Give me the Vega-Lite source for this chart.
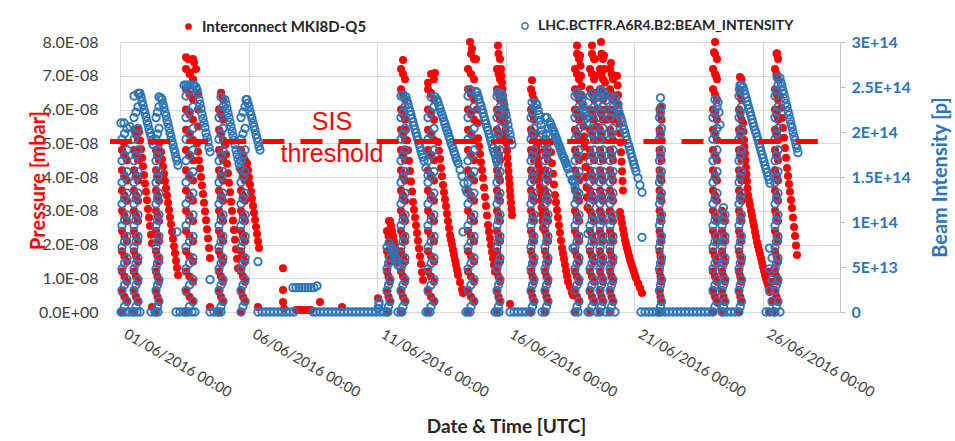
{
"$schema":"https://vega.github.io/schema/vega-lite/v6.json",
"width":720,"height":270,
"autosize":{"type":"none"},
"padding":{"left":120,"top":42,"right":115,"bottom":129},
"background":"white",
"config":{"view":{"stroke":null},"axis":{"labelFont":"Lato","titleFont":"Lato"},"legend":{"labelFont":"Lato"}},
"data":{"values":[
{"t":"2016-06-01T01:52","p":0,"b":0},{"t":"2016-06-01T01:52","p":6e-9,"b":2.4e13},{"t":"2016-06-01T01:52","p":1.2e-8,"b":4.8e13},{"t":"2016-06-01T01:52","p":1.8e-8,"b":7.2e13},{"t":"2016-06-01T01:52","p":2.4e-8,"b":9.6e13},{"t":"2016-06-01T01:52","p":3e-8,"b":1.2e14},{"t":"2016-06-01T01:52","p":3.6e-8,"b":1.44e14},{"t":"2016-06-01T01:52","p":4.2e-8,"b":1.68e14},{"t":"2016-06-01T01:52","p":4.8e-8,"b":1.92e14},
{"t":"2016-06-01T06:32","p":3e-9,"b":1.2e13},{"t":"2016-06-01T06:32","p":9e-9,"b":3.6e13},{"t":"2016-06-01T06:32","p":1.5e-8,"b":6e13},{"t":"2016-06-01T06:32","p":2.1e-8,"b":8.4e13},{"t":"2016-06-01T06:32","p":2.7e-8,"b":1.08e14},{"t":"2016-06-01T06:32","p":3.3e-8,"b":1.32e14},{"t":"2016-06-01T06:32","p":3.9e-8,"b":1.56e14},{"t":"2016-06-01T06:32","p":4.5e-8,"b":1.8e14},{"t":"2016-06-01T06:32","b":2.04e14},
{"t":"2016-06-01T03:44","p":5e-8,"b":2.1e14},{"t":"2016-06-01T00:56","b":2.1e14},{"t":"2016-06-01T09:20","b":2.06e14},
{"t":"2016-06-01T13:04","p":0,"b":0},{"t":"2016-06-01T13:04","p":6e-9,"b":2.4e13},{"t":"2016-06-01T13:04","p":1.2e-8,"b":4.8e13},{"t":"2016-06-01T13:04","p":1.8e-8,"b":7.2e13},{"t":"2016-06-01T13:04","p":2.4e-8,"b":9.6e13},{"t":"2016-06-01T13:04","p":3e-8,"b":1.2e14},{"t":"2016-06-01T13:04","p":3.6e-8,"b":1.44e14},{"t":"2016-06-01T13:04","p":4.2e-8,"b":1.68e14},{"t":"2016-06-01T13:04","p":4.8e-8,"b":1.92e14},{"t":"2016-06-01T13:04","p":5.4e-8,"b":2.16e14},{"t":"2016-06-01T13:04","b":2.4e14},
{"t":"2016-06-01T16:48","p":3e-9,"b":1.2e13},{"t":"2016-06-01T16:48","p":9e-9,"b":3.6e13},{"t":"2016-06-01T16:48","p":1.5e-8,"b":6e13},{"t":"2016-06-01T16:48","p":2.1e-8,"b":8.4e13},{"t":"2016-06-01T16:48","p":2.7e-8,"b":1.08e14},{"t":"2016-06-01T16:48","p":3.3e-8,"b":1.32e14},{"t":"2016-06-01T16:48","p":3.9e-8,"b":1.56e14},{"t":"2016-06-01T16:48","p":4.5e-8,"b":1.8e14},{"t":"2016-06-01T16:48","p":5.1e-8,"b":2.04e14},{"t":"2016-06-01T16:48","b":2.28e14},{"t":"2016-06-01T16:48","p":5.4e-8,"b":2.43e14},
{"t":"2016-06-01T17:44","p":5.33e-8,"b":2.43e14},{"t":"2016-06-01T18:40","p":5.08e-8,"b":2.43e14},{"t":"2016-06-01T19:36","p":4.82e-8,"b":2.39e14},{"t":"2016-06-01T20:32","p":4.57e-8,"b":2.34e14},{"t":"2016-06-01T21:28","p":4.32e-8,"b":2.3e14},{"t":"2016-06-01T22:24","p":4.06e-8,"b":2.25e14},{"t":"2016-06-01T23:20","p":3.81e-8,"b":2.21e14},{"t":"2016-06-02T00:16","p":3.56e-8,"b":2.17e14},{"t":"2016-06-02T01:12","p":3.31e-8,"b":2.12e14},{"t":"2016-06-02T02:08","p":3.05e-8,"b":2.08e14},{"t":"2016-06-02T03:04","p":2.8e-8,"b":2.03e14},{"t":"2016-06-02T04:00","p":2.55e-8,"b":1.99e14},{"t":"2016-06-02T04:56","p":2.29e-8,"b":1.95e14},{"t":"2016-06-02T05:52","p":2.04e-8,"b":1.9e14},{"t":"2016-06-02T06:48","b":1.86e14},{"t":"2016-06-02T05:52","p":1.5e-9},
{"t":"2016-06-02T09:36","p":0,"b":0},{"t":"2016-06-02T09:36","p":6e-9,"b":2.4e13},{"t":"2016-06-02T09:36","p":1.2e-8,"b":4.8e13},{"t":"2016-06-02T09:36","p":1.8e-8,"b":7.2e13},{"t":"2016-06-02T09:36","p":2.4e-8,"b":9.6e13},{"t":"2016-06-02T09:36","p":3e-8,"b":1.2e14},{"t":"2016-06-02T09:36","p":3.6e-8,"b":1.44e14},{"t":"2016-06-02T09:36","p":4.2e-8,"b":1.68e14},{"t":"2016-06-02T09:36","p":4.8e-8,"b":1.92e14},{"t":"2016-06-02T09:36","b":2.16e14},
{"t":"2016-06-02T12:24","p":3e-9,"b":1.2e13},{"t":"2016-06-02T12:24","p":9e-9,"b":3.6e13},{"t":"2016-06-02T12:24","p":1.5e-8,"b":6e13},{"t":"2016-06-02T12:24","p":2.1e-8,"b":8.4e13},{"t":"2016-06-02T12:24","p":2.7e-8,"b":1.08e14},{"t":"2016-06-02T12:24","p":3.3e-8,"b":1.32e14},{"t":"2016-06-02T12:24","p":3.9e-8,"b":1.56e14},{"t":"2016-06-02T12:24","p":4.5e-8,"b":1.8e14},{"t":"2016-06-02T12:24","b":2.04e14},{"t":"2016-06-02T12:24","b":2.28e14},{"t":"2016-06-02T12:24","p":5e-8,"b":2.39e14},
{"t":"2016-06-02T14:16","p":4.74e-8,"b":2.38e14},{"t":"2016-06-02T15:12","p":4.52e-8,"b":2.36e14},{"t":"2016-06-02T16:08","p":4.31e-8,"b":2.31e14},{"t":"2016-06-02T17:04","p":4.1e-8,"b":2.27e14},{"t":"2016-06-02T18:00","p":3.88e-8,"b":2.22e14},{"t":"2016-06-02T18:56","p":3.67e-8,"b":2.18e14},{"t":"2016-06-02T19:52","p":3.45e-8,"b":2.13e14},{"t":"2016-06-02T20:48","p":3.24e-8,"b":2.09e14},{"t":"2016-06-02T21:44","p":3.02e-8,"b":2.04e14},{"t":"2016-06-02T22:40","p":2.81e-8,"b":1.99e14},{"t":"2016-06-02T23:36","p":2.6e-8,"b":1.95e14},{"t":"2016-06-03T00:32","p":2.38e-8,"b":1.9e14},{"t":"2016-06-03T01:28","p":2.17e-8,"b":1.86e14},{"t":"2016-06-03T02:24","p":1.95e-8,"b":1.81e14},{"t":"2016-06-03T03:20","p":1.74e-8,"b":1.77e14},{"t":"2016-06-03T04:16","p":1.52e-8,"b":1.72e14},{"t":"2016-06-03T05:12","p":1.31e-8,"b":1.68e14},{"t":"2016-06-03T06:08","p":1.1e-8,"b":1.63e14},{"t":"2016-06-03T05:12","b":8.9e13},
{"t":"2016-06-03T13:36","p":0,"b":0},{"t":"2016-06-03T13:36","p":6e-9,"b":2.4e13},{"t":"2016-06-03T13:36","p":1.2e-8,"b":4.8e13},{"t":"2016-06-03T13:36","p":1.8e-8,"b":7.2e13},{"t":"2016-06-03T13:36","p":2.4e-8,"b":9.6e13},{"t":"2016-06-03T13:36","p":3e-8,"b":1.2e14},{"t":"2016-06-03T13:36","p":3.6e-8,"b":1.44e14},{"t":"2016-06-03T13:36","p":4.2e-8,"b":1.68e14},{"t":"2016-06-03T13:36","p":4.8e-8,"b":1.92e14},{"t":"2016-06-03T13:36","p":5.4e-8,"b":2.16e14},{"t":"2016-06-03T13:36","p":6e-8,"b":2.4e14},{"t":"2016-06-03T13:36","p":6.6e-8},{"t":"2016-06-03T13:36","p":7.2e-8},
{"t":"2016-06-03T20:08","p":3e-9,"b":1.2e13},{"t":"2016-06-03T20:08","p":9e-9,"b":3.6e13},{"t":"2016-06-03T20:08","p":1.5e-8,"b":6e13},{"t":"2016-06-03T20:08","p":2.1e-8,"b":8.4e13},{"t":"2016-06-03T20:08","p":2.7e-8,"b":1.08e14},{"t":"2016-06-03T20:08","p":3.3e-8,"b":1.32e14},{"t":"2016-06-03T20:08","p":3.9e-8,"b":1.56e14},{"t":"2016-06-03T20:08","p":4.5e-8,"b":1.8e14},{"t":"2016-06-03T20:08","p":5.1e-8,"b":2.04e14},{"t":"2016-06-03T20:08","p":5.7e-8,"b":2.28e14},{"t":"2016-06-03T20:08","p":6.3e-8,"b":2.52e14},{"t":"2016-06-03T20:08","p":6.9e-8},{"t":"2016-06-03T20:08","p":7.5e-8},
{"t":"2016-06-03T11:44","b":2.52e14},{"t":"2016-06-03T13:36","p":7.55e-8,"b":2.52e14},{"t":"2016-06-03T15:28","p":7.5e-8,"b":2.52e14},{"t":"2016-06-03T17:20","p":7.1e-8,"b":2.52e14},{"t":"2016-06-03T21:04","p":7.4e-8,"b":2.52e14},{"t":"2016-06-03T22:56","p":7.2e-8,"b":2.5e14},{"t":"2016-06-04T00:48","p":6.5e-8},{"t":"2016-06-04T00:48","p":6e-8},{"t":"2016-06-04T00:48","p":5.5e-8},
{"t":"2016-06-03T23:52","p":5e-8,"b":2.47e14},{"t":"2016-06-04T00:48","p":4.75e-8,"b":2.42e14},{"t":"2016-06-04T01:44","p":4.5e-8,"b":2.36e14},{"t":"2016-06-04T02:40","p":4.25e-8,"b":2.31e14},{"t":"2016-06-04T03:36","p":4e-8,"b":2.26e14},{"t":"2016-06-04T04:32","p":3.75e-8,"b":2.2e14},{"t":"2016-06-04T05:28","p":3.5e-8,"b":2.15e14},{"t":"2016-06-04T06:24","p":3.24e-8,"b":2.1e14},{"t":"2016-06-04T07:20","p":2.98e-8,"b":2.05e14},{"t":"2016-06-04T08:16","p":2.72e-8,"b":1.99e14},{"t":"2016-06-04T09:12","p":2.45e-8,"b":1.94e14},{"t":"2016-06-04T10:08","p":2.18e-8,"b":1.89e14},{"t":"2016-06-04T11:04","p":1.9e-8,"b":1.83e14},{"t":"2016-06-04T12:00","p":1.6e-8,"b":1.78e14},{"t":"2016-06-04T12:00","p":1.5e-9,"b":3.6e13},
{"t":"2016-06-04T20:24","p":0,"b":0},{"t":"2016-06-04T20:24","p":6e-9,"b":2.4e13},{"t":"2016-06-04T20:24","p":1.2e-8,"b":4.8e13},{"t":"2016-06-04T20:24","p":1.8e-8,"b":7.2e13},{"t":"2016-06-04T20:24","p":2.4e-8,"b":9.6e13},{"t":"2016-06-04T20:24","p":3e-8,"b":1.2e14},{"t":"2016-06-04T20:24","p":3.6e-8,"b":1.44e14},{"t":"2016-06-04T20:24","p":4.2e-8,"b":1.68e14},{"t":"2016-06-04T20:24","p":4.8e-8,"b":1.92e14},{"t":"2016-06-04T20:24","p":5.4e-8,"b":2.16e14},{"t":"2016-06-04T20:24","p":6e-8},
{"t":"2016-06-05T00:08","p":3e-9,"b":1.2e13},{"t":"2016-06-05T00:08","p":9e-9,"b":3.6e13},{"t":"2016-06-05T00:08","p":1.5e-8,"b":6e13},{"t":"2016-06-05T00:08","p":2.1e-8,"b":8.4e13},{"t":"2016-06-05T00:08","p":2.7e-8,"b":1.08e14},{"t":"2016-06-05T00:08","p":3.3e-8,"b":1.32e14},{"t":"2016-06-05T00:08","p":3.9e-8,"b":1.56e14},{"t":"2016-06-05T00:08","p":4.5e-8,"b":1.8e14},{"t":"2016-06-05T00:08","p":5.1e-8,"b":2.04e14},{"t":"2016-06-05T00:08","p":5.7e-8,"b":2.28e14},{"t":"2016-06-05T00:08","p":6.3e-8},{"t":"2016-06-04T22:16","p":6.5e-8,"b":2.39e14},
{"t":"2016-06-05T02:00","p":4.95e-8,"b":2.36e14},{"t":"2016-06-05T02:56","p":4.67e-8,"b":2.31e14},{"t":"2016-06-05T03:52","p":4.39e-8,"b":2.26e14},{"t":"2016-06-05T04:48","p":4.11e-8,"b":2.21e14},{"t":"2016-06-05T05:44","p":3.83e-8,"b":2.16e14},{"t":"2016-06-05T06:40","p":3.55e-8,"b":2.11e14},{"t":"2016-06-05T07:36","p":3.27e-8,"b":2.06e14},{"t":"2016-06-05T08:32","p":2.99e-8,"b":2.01e14},{"t":"2016-06-05T09:28","p":2.71e-8,"b":1.96e14},{"t":"2016-06-05T10:24","p":2.43e-8,"b":1.91e14},{"t":"2016-06-05T11:20","p":2.14e-8,"b":1.86e14},{"t":"2016-06-05T12:16","p":1.86e-8,"b":1.8e14},{"t":"2016-06-05T13:12","p":1.58e-8,"b":1.75e14},{"t":"2016-06-05T14:08","p":1.3e-8,"b":1.7e14},{"t":"2016-06-05T15:04","b":1.65e14},{"t":"2016-06-05T16:00","b":1.6e14},
{"t":"2016-06-05T16:56","p":0,"b":0},{"t":"2016-06-05T16:56","p":6e-9,"b":2.4e13},{"t":"2016-06-05T16:56","p":1.2e-8,"b":4.8e13},{"t":"2016-06-05T16:56","p":1.8e-8,"b":7.2e13},{"t":"2016-06-05T16:56","p":2.4e-8,"b":9.6e13},{"t":"2016-06-05T16:56","p":3e-8,"b":1.2e14},{"t":"2016-06-05T16:56","p":3.6e-8,"b":1.44e14},{"t":"2016-06-05T16:56","p":4.2e-8,"b":1.68e14},{"t":"2016-06-05T16:56","p":4.8e-8,"b":1.92e14},{"t":"2016-06-05T16:56","b":2.16e14},
{"t":"2016-06-05T20:40","p":3e-9,"b":1.2e13},{"t":"2016-06-05T20:40","p":9e-9,"b":3.6e13},{"t":"2016-06-05T20:40","p":1.5e-8,"b":6e13},{"t":"2016-06-05T20:40","p":2.1e-8,"b":8.4e13},{"t":"2016-06-05T20:40","p":2.7e-8,"b":1.08e14},{"t":"2016-06-05T20:40","p":3.3e-8,"b":1.32e14},{"t":"2016-06-05T20:40","p":3.9e-8,"b":1.56e14},{"t":"2016-06-05T20:40","p":4.5e-8,"b":1.8e14},{"t":"2016-06-05T20:40","b":2.04e14},{"t":"2016-06-05T20:40","b":2.28e14},{"t":"2016-06-05T21:36","b":2.36e14},
{"t":"2016-06-05T22:32","p":4.4e-8,"b":2.36e14},{"t":"2016-06-05T23:28","p":4.2e-8,"b":2.32e14},{"t":"2016-06-06T00:24","p":3.99e-8,"b":2.28e14},{"t":"2016-06-06T01:20","p":3.78e-8,"b":2.23e14},{"t":"2016-06-06T02:16","p":3.57e-8,"b":2.19e14},{"t":"2016-06-06T03:12","p":3.36e-8,"b":2.15e14},{"t":"2016-06-06T04:08","p":3.15e-8,"b":2.1e14},{"t":"2016-06-06T05:04","p":2.94e-8,"b":2.06e14},{"t":"2016-06-06T06:00","p":2.73e-8,"b":2.02e14},{"t":"2016-06-06T06:56","p":2.52e-8,"b":1.97e14},{"t":"2016-06-06T07:52","p":2.31e-8,"b":1.93e14},{"t":"2016-06-06T08:48","p":2.1e-8,"b":1.89e14},{"t":"2016-06-06T09:44","p":1.9e-8,"b":1.84e14},{"t":"2016-06-06T10:40","b":1.8e14},{"t":"2016-06-06T08:48","p":1.5e-9,"b":5.6e13},
{"t":"2016-06-07T08:08","p":1.3e-8},{"t":"2016-06-07T08:08","p":6.5e-9},{"t":"2016-06-07T08:08","p":3e-9},{"t":"2016-06-07T09:04","p":1e-9},
{"t":"2016-06-07T17:28","b":2.7e13},{"t":"2016-06-07T20:16","p":6e-10,"b":2.7e13},{"t":"2016-06-07T23:04","p":6e-10,"b":2.7e13},{"t":"2016-06-08T01:52","p":6e-10,"b":2.7e13},{"t":"2016-06-08T04:40","p":6e-10,"b":2.7e13},{"t":"2016-06-08T07:28","p":6e-10,"b":2.7e13},{"t":"2016-06-08T10:16","p":6e-10,"b":2.7e13},{"t":"2016-06-08T13:04","b":2.7e13},{"t":"2016-06-08T15:52","b":2.9e13},
{"t":"2016-06-08T18:40","p":3e-9},{"t":"2016-06-09T15:12","p":1.5e-9},{"t":"2016-06-11T00:48","p":4.1e-9,"b":4e12},{"t":"2016-06-11T01:44","b":8e12},{"t":"2016-06-11T01:44","b":1.1e13},
{"t":"2016-06-11T09:12","p":0,"b":0},{"t":"2016-06-11T09:12","p":6e-9,"b":2.4e13},{"t":"2016-06-11T09:12","p":1.2e-8,"b":4.8e13},{"t":"2016-06-11T09:12","p":1.8e-8,"b":7.2e13},{"t":"2016-06-11T09:12","p":2.4e-8},
{"t":"2016-06-11T12:00","p":3e-9,"b":1.2e13},{"t":"2016-06-11T12:00","p":9e-9,"b":3.6e13},{"t":"2016-06-11T12:00","p":1.5e-8,"b":6e13},{"t":"2016-06-11T12:00","p":2.1e-8},{"t":"2016-06-11T12:00","p":2.7e-8},{"t":"2016-06-11T11:04","p":2.7e-8,"b":7.7e13},
{"t":"2016-06-11T12:56","p":2.55e-8,"b":7.3e13},{"t":"2016-06-11T13:52","p":2.4e-8,"b":7e13},{"t":"2016-06-11T14:48","p":2.25e-8,"b":6.8e13},{"t":"2016-06-11T15:44","p":2.1e-8,"b":6.5e13},{"t":"2016-06-11T16:40","p":1.95e-8,"b":6.2e13},{"t":"2016-06-11T17:36","p":1.8e-8,"b":5.9e13},{"t":"2016-06-11T18:32","p":1.64e-8,"b":5.5e13},{"t":"2016-06-11T19:28","p":1.48e-8,"b":5.2e13},
{"t":"2016-06-11T22:16","p":0,"b":0},{"t":"2016-06-11T22:16","p":6e-9,"b":2.4e13},{"t":"2016-06-11T22:16","p":1.2e-8,"b":4.8e13},{"t":"2016-06-11T22:16","p":1.8e-8,"b":7.2e13},{"t":"2016-06-11T22:16","p":2.4e-8,"b":9.6e13},{"t":"2016-06-11T22:16","p":3e-8,"b":1.2e14},{"t":"2016-06-11T22:16","p":3.6e-8,"b":1.44e14},{"t":"2016-06-11T22:16","p":4.2e-8,"b":1.68e14},{"t":"2016-06-11T22:16","p":4.8e-8,"b":1.92e14},{"t":"2016-06-11T22:16","p":5.4e-8,"b":2.16e14},{"t":"2016-06-11T22:16","p":6e-8,"b":2.4e14},{"t":"2016-06-11T22:16","p":6.6e-8},{"t":"2016-06-11T22:16","p":7.2e-8},
{"t":"2016-06-12T02:00","p":3e-9,"b":1.2e13},{"t":"2016-06-12T02:00","p":9e-9,"b":3.6e13},{"t":"2016-06-12T02:00","p":1.5e-8,"b":6e13},{"t":"2016-06-12T02:00","p":2.1e-8,"b":8.4e13},{"t":"2016-06-12T02:00","p":2.7e-8,"b":1.08e14},{"t":"2016-06-12T02:00","p":3.3e-8,"b":1.32e14},{"t":"2016-06-12T02:00","p":3.9e-8,"b":1.56e14},{"t":"2016-06-12T02:00","p":4.5e-8,"b":1.8e14},{"t":"2016-06-12T02:00","p":5.1e-8,"b":2.04e14},{"t":"2016-06-12T02:00","p":5.7e-8,"b":2.28e14},{"t":"2016-06-12T02:00","p":6.3e-8},{"t":"2016-06-12T02:00","p":6.9e-8},{"t":"2016-06-12T00:08","p":7.47e-8,"b":2.41e14},
{"t":"2016-06-12T02:56","p":5.4e-8,"b":2.39e14},{"t":"2016-06-12T03:52","p":5.09e-8,"b":2.35e14},{"t":"2016-06-12T04:48","p":4.79e-8,"b":2.31e14},{"t":"2016-06-12T05:44","p":4.48e-8,"b":2.27e14},{"t":"2016-06-12T06:40","p":4.18e-8,"b":2.23e14},{"t":"2016-06-12T07:36","p":3.87e-8,"b":2.19e14},{"t":"2016-06-12T08:32","p":3.57e-8,"b":2.15e14},{"t":"2016-06-12T09:28","p":3.26e-8,"b":2.11e14},{"t":"2016-06-12T10:24","p":3.03e-8,"b":2.07e14},{"t":"2016-06-12T11:20","p":2.8e-8,"b":2.03e14},{"t":"2016-06-12T12:16","p":2.57e-8,"b":1.99e14},{"t":"2016-06-12T13:12","p":2.34e-8,"b":1.95e14},{"t":"2016-06-12T14:08","p":2.11e-8,"b":1.91e14},{"t":"2016-06-12T15:04","p":1.88e-8,"b":1.87e14},{"t":"2016-06-12T16:00","p":1.65e-8,"b":1.83e14},{"t":"2016-06-12T16:56","p":1.42e-8,"b":1.79e14},{"t":"2016-06-12T17:52","p":1.18e-8,"b":1.75e14},{"t":"2016-06-12T18:48","p":9.5e-9,"b":1.72e14},{"t":"2016-06-12T19:44","b":1.68e14},{"t":"2016-06-12T21:36","b":1.6e14},{"t":"2016-06-12T23:28","b":1.52e14},
{"t":"2016-06-12T23:28","p":0,"b":0},{"t":"2016-06-12T23:28","p":6e-9,"b":2.4e13},{"t":"2016-06-12T23:28","p":1.2e-8,"b":4.8e13},{"t":"2016-06-12T23:28","p":1.8e-8,"b":7.2e13},{"t":"2016-06-12T23:28","p":2.4e-8,"b":9.6e13},{"t":"2016-06-12T23:28","p":3e-8,"b":1.2e14},{"t":"2016-06-12T23:28","p":3.6e-8,"b":1.44e14},{"t":"2016-06-12T23:28","p":4.2e-8,"b":1.68e14},{"t":"2016-06-12T23:28","p":4.8e-8,"b":1.92e14},{"t":"2016-06-12T23:28","p":5.4e-8,"b":2.16e14},{"t":"2016-06-12T23:28","p":6e-8},{"t":"2016-06-12T23:28","p":6.6e-8},{"t":"2016-06-12T23:28","p":6.79e-8},
{"t":"2016-06-13T05:04","p":3e-9,"b":1.2e13},{"t":"2016-06-13T05:04","p":9e-9,"b":3.6e13},{"t":"2016-06-13T05:04","p":1.5e-8,"b":6e13},{"t":"2016-06-13T05:04","p":2.1e-8,"b":8.4e13},{"t":"2016-06-13T05:04","p":2.7e-8,"b":1.08e14},{"t":"2016-06-13T05:04","p":3.3e-8,"b":1.32e14},{"t":"2016-06-13T05:04","p":3.9e-8,"b":1.56e14},{"t":"2016-06-13T05:04","p":4.5e-8,"b":1.8e14},{"t":"2016-06-13T05:04","p":5.1e-8,"b":2.04e14},{"t":"2016-06-13T05:04","p":5.7e-8,"b":2.28e14},{"t":"2016-06-13T05:04","p":6.3e-8},{"t":"2016-06-13T05:04","p":6.9e-8},{"t":"2016-06-13T02:16","p":6.5e-8,"b":2.39e14},{"t":"2016-06-13T06:00","p":7.08e-8,"b":2.39e14},
{"t":"2016-06-13T07:52","b":2.36e14},{"t":"2016-06-13T08:48","p":5.04e-8,"b":2.33e14},{"t":"2016-06-13T09:44","p":4.78e-8,"b":2.29e14},{"t":"2016-06-13T10:40","p":4.53e-8,"b":2.26e14},{"t":"2016-06-13T11:36","p":4.27e-8,"b":2.22e14},{"t":"2016-06-13T12:32","p":4.02e-8,"b":2.19e14},{"t":"2016-06-13T13:28","p":3.76e-8,"b":2.16e14},{"t":"2016-06-13T14:24","p":3.55e-8,"b":2.12e14},{"t":"2016-06-13T15:20","p":3.34e-8,"b":2.09e14},{"t":"2016-06-13T16:16","p":3.13e-8,"b":2.05e14},{"t":"2016-06-13T17:12","p":2.91e-8,"b":2.02e14},{"t":"2016-06-13T18:08","p":2.7e-8,"b":1.99e14},{"t":"2016-06-13T19:04","p":2.49e-8,"b":1.95e14},{"t":"2016-06-13T20:00","p":2.28e-8,"b":1.92e14},{"t":"2016-06-13T20:56","p":2.13e-8,"b":1.88e14},{"t":"2016-06-13T21:52","p":1.99e-8,"b":1.85e14},{"t":"2016-06-13T22:48","p":1.84e-8,"b":1.82e14},{"t":"2016-06-13T23:44","p":1.69e-8,"b":1.78e14},{"t":"2016-06-14T00:40","p":1.54e-8,"b":1.75e14},{"t":"2016-06-14T01:36","p":1.4e-8,"b":1.71e14},{"t":"2016-06-14T02:32","p":1.25e-8,"b":1.68e14},{"t":"2016-06-14T03:28","p":1.1e-8,"b":1.65e14},{"t":"2016-06-14T05:20","p":8.8e-9,"b":1.58e14},{"t":"2016-06-14T07:12","p":6.7e-9,"b":1.51e14},{"t":"2016-06-14T08:08","p":5.6e-9,"b":8.9e13},{"t":"2016-06-14T09:04","b":1.43e14},{"t":"2016-06-14T10:56","b":1.36e14},{"t":"2016-06-14T11:52","b":1.33e14},
{"t":"2016-06-14T12:48","p":0,"b":0},{"t":"2016-06-14T12:48","p":6e-9,"b":2.4e13},{"t":"2016-06-14T12:48","p":1.2e-8,"b":4.8e13},{"t":"2016-06-14T12:48","p":1.8e-8,"b":7.2e13},{"t":"2016-06-14T12:48","p":2.4e-8,"b":9.6e13},{"t":"2016-06-14T12:48","p":3e-8,"b":1.2e14},{"t":"2016-06-14T12:48","p":3.6e-8,"b":1.44e14},{"t":"2016-06-14T12:48","p":4.2e-8,"b":1.68e14},{"t":"2016-06-14T12:48","p":4.8e-8,"b":1.92e14},{"t":"2016-06-14T12:48","p":5.4e-8,"b":2.16e14},{"t":"2016-06-14T12:48","p":6e-8,"b":2.4e14},{"t":"2016-06-14T12:48","p":6.6e-8},{"t":"2016-06-14T12:48","p":7.2e-8},
{"t":"2016-06-14T18:24","p":3e-9,"b":1.2e13},{"t":"2016-06-14T18:24","p":9e-9,"b":3.6e13},{"t":"2016-06-14T18:24","p":1.5e-8,"b":6e13},{"t":"2016-06-14T18:24","p":2.1e-8,"b":8.4e13},{"t":"2016-06-14T18:24","p":2.7e-8,"b":1.08e14},{"t":"2016-06-14T18:24","p":3.3e-8,"b":1.32e14},{"t":"2016-06-14T18:24","p":3.9e-8,"b":1.56e14},{"t":"2016-06-14T18:24","p":4.5e-8,"b":1.8e14},{"t":"2016-06-14T18:24","p":5.1e-8,"b":2.04e14},{"t":"2016-06-14T18:24","p":5.7e-8,"b":2.28e14},{"t":"2016-06-14T18:24","p":6.3e-8},{"t":"2016-06-14T18:24","p":6.9e-8},{"t":"2016-06-14T18:24","p":7.5e-8},
{"t":"2016-06-14T14:40","p":8e-8,"b":2.47e14},{"t":"2016-06-14T16:32","p":7.8e-8},{"t":"2016-06-14T20:16","p":7.5e-8,"b":2.45e14},{"t":"2016-06-14T21:12","p":6e-8},{"t":"2016-06-14T21:40","p":5.6e-8},
{"t":"2016-06-14T21:12","b":2.44e14},{"t":"2016-06-14T22:08","p":5.15e-8,"b":2.4e14},{"t":"2016-06-14T23:04","p":4.91e-8,"b":2.36e14},{"t":"2016-06-15T00:00","p":4.68e-8,"b":2.32e14},{"t":"2016-06-15T00:56","p":4.44e-8,"b":2.29e14},{"t":"2016-06-15T01:52","p":4.21e-8,"b":2.25e14},{"t":"2016-06-15T02:48","p":3.97e-8,"b":2.21e14},{"t":"2016-06-15T03:44","p":3.69e-8,"b":2.17e14},{"t":"2016-06-15T04:40","p":3.41e-8,"b":2.13e14},{"t":"2016-06-15T05:36","p":3.14e-8,"b":2.09e14},{"t":"2016-06-15T06:32","p":2.86e-8,"b":2.05e14},{"t":"2016-06-15T07:28","p":2.58e-8,"b":2.02e14},{"t":"2016-06-15T08:24","p":2.38e-8,"b":1.98e14},{"t":"2016-06-15T09:20","p":2.18e-8,"b":1.94e14},{"t":"2016-06-15T10:16","p":1.98e-8,"b":1.9e14},{"t":"2016-06-15T11:12","p":1.78e-8,"b":1.86e14},{"t":"2016-06-15T12:08","p":1.59e-8,"b":1.82e14},{"t":"2016-06-15T13:04","p":1.39e-8,"b":1.78e14},{"t":"2016-06-15T14:00","p":1.19e-8,"b":1.75e14},{"t":"2016-06-15T14:56","b":1.71e14},{"t":"2016-06-15T15:52","b":1.67e14},{"t":"2016-06-15T16:48","b":1.63e14},
{"t":"2016-06-15T15:52","p":0,"b":0},{"t":"2016-06-15T15:52","p":6e-9,"b":2.4e13},{"t":"2016-06-15T15:52","p":1.2e-8,"b":4.8e13},{"t":"2016-06-15T15:52","p":1.8e-8,"b":7.2e13},{"t":"2016-06-15T15:52","p":2.4e-8,"b":9.6e13},{"t":"2016-06-15T15:52","p":3e-8,"b":1.2e14},{"t":"2016-06-15T15:52","p":3.6e-8,"b":1.44e14},{"t":"2016-06-15T15:52","p":4.2e-8,"b":1.68e14},{"t":"2016-06-15T15:52","p":4.8e-8,"b":1.92e14},{"t":"2016-06-15T15:52","p":5.4e-8,"b":2.16e14},{"t":"2016-06-15T15:52","p":6e-8,"b":2.4e14},{"t":"2016-06-15T15:52","p":6.6e-8},{"t":"2016-06-15T15:52","p":7.2e-8},
{"t":"2016-06-15T18:40","p":3e-9,"b":1.2e13},{"t":"2016-06-15T18:40","p":9e-9,"b":3.6e13},{"t":"2016-06-15T18:40","p":1.5e-8,"b":6e13},{"t":"2016-06-15T18:40","p":2.1e-8,"b":8.4e13},{"t":"2016-06-15T18:40","p":2.7e-8,"b":1.08e14},{"t":"2016-06-15T18:40","p":3.3e-8,"b":1.32e14},{"t":"2016-06-15T18:40","p":3.9e-8,"b":1.56e14},{"t":"2016-06-15T18:40","p":4.5e-8,"b":1.8e14},{"t":"2016-06-15T18:40","p":5.1e-8,"b":2.04e14},{"t":"2016-06-15T18:40","p":5.7e-8,"b":2.28e14},{"t":"2016-06-15T18:40","p":6.3e-8},{"t":"2016-06-15T18:40","p":6.9e-8},{"t":"2016-06-15T18:40","p":7.5e-8},{"t":"2016-06-15T16:48","p":7.9e-8,"b":2.44e14},
{"t":"2016-06-15T19:36","p":7.2e-8,"b":2.43e14},{"t":"2016-06-15T20:04","p":7e-8},{"t":"2016-06-15T20:32","p":6.8e-8,"b":2.41e14},{"t":"2016-06-15T21:00","p":6.6e-8},{"t":"2016-06-15T21:28","p":6.4e-8,"b":2.35e14},{"t":"2016-06-15T21:56","p":6.2e-8},{"t":"2016-06-15T22:24","p":6e-8,"b":2.3e14},{"t":"2016-06-15T22:52","p":5.8e-8},{"t":"2016-06-15T23:20","p":5.6e-8,"b":2.24e14},{"t":"2016-06-15T23:48","p":5.4e-8},{"t":"2016-06-16T00:16","p":5.2e-8,"b":2.19e14},{"t":"2016-06-16T00:44","p":5e-8},{"t":"2016-06-16T01:12","p":4.78e-8,"b":2.13e14},{"t":"2016-06-16T01:40","p":4.57e-8},{"t":"2016-06-16T02:08","p":4.36e-8,"b":2.08e14},{"t":"2016-06-16T02:36","p":4.17e-8},{"t":"2016-06-16T03:04","p":3.98e-8,"b":2.02e14},{"t":"2016-06-16T03:32","p":3.79e-8},{"t":"2016-06-16T04:00","p":3.6e-8,"b":1.97e14},{"t":"2016-06-16T04:28","p":3.42e-8},{"t":"2016-06-16T04:56","p":3.24e-8,"b":1.91e14},{"t":"2016-06-16T05:24","p":3.05e-8},{"t":"2016-06-16T05:52","p":2.87e-8,"b":1.86e14},{"t":"2016-06-16T04:00","p":2.4e-9},
{"t":"2016-06-16T23:36","p":0,"b":0},{"t":"2016-06-16T23:36","p":6e-9,"b":2.4e13},{"t":"2016-06-16T23:36","p":1.2e-8,"b":4.8e13},{"t":"2016-06-16T23:36","p":1.8e-8,"b":7.2e13},{"t":"2016-06-16T23:36","p":2.4e-8,"b":9.6e13},{"t":"2016-06-16T23:36","p":3e-8,"b":1.2e14},{"t":"2016-06-16T23:36","p":3.6e-8,"b":1.44e14},{"t":"2016-06-16T23:36","p":4.2e-8,"b":1.68e14},{"t":"2016-06-16T23:36","p":4.8e-8,"b":1.92e14},{"t":"2016-06-16T23:36","p":5.4e-8,"b":2.16e14},{"t":"2016-06-16T23:36","p":6e-8},{"t":"2016-06-16T23:36","p":6.6e-8},
{"t":"2016-06-17T02:24","p":3e-9,"b":1.2e13},{"t":"2016-06-17T02:24","p":9e-9,"b":3.6e13},{"t":"2016-06-17T02:24","p":1.5e-8,"b":6e13},{"t":"2016-06-17T02:24","p":2.1e-8,"b":8.4e13},{"t":"2016-06-17T02:24","p":2.7e-8,"b":1.08e14},{"t":"2016-06-17T02:24","p":3.3e-8,"b":1.32e14},{"t":"2016-06-17T02:24","p":3.9e-8,"b":1.56e14},{"t":"2016-06-17T02:24","p":4.5e-8,"b":1.8e14},{"t":"2016-06-17T02:24","p":5.1e-8,"b":2.04e14},{"t":"2016-06-17T02:24","p":5.7e-8,"b":2.28e14},{"t":"2016-06-17T02:24","p":6.3e-8},{"t":"2016-06-17T00:32","p":6.87e-8,"b":2.33e14},
{"t":"2016-06-17T04:16","p":5.3e-8,"b":2.32e14},{"t":"2016-06-17T05:12","p":4.95e-8,"b":2.3e14},{"t":"2016-06-17T05:40","p":4.75e-8},{"t":"2016-06-17T06:08","p":4.54e-8,"b":2.24e14},{"t":"2016-06-17T06:36","p":4.33e-8},{"t":"2016-06-17T07:04","p":4.13e-8,"b":2.19e14},{"t":"2016-06-17T07:32","p":3.92e-8},{"t":"2016-06-17T08:00","p":3.72e-8,"b":2.13e14},{"t":"2016-06-17T08:28","p":3.51e-8},{"t":"2016-06-17T08:56","p":3.31e-8,"b":2.08e14},{"t":"2016-06-17T09:24","p":3.1e-8},{"t":"2016-06-17T09:52","p":2.9e-8,"b":2.02e14},{"t":"2016-06-17T10:20","p":2.7e-8},{"t":"2016-06-17T10:48","p":2.49e-8,"b":1.97e14},{"t":"2016-06-17T11:44","b":1.91e14},{"t":"2016-06-17T12:40","b":1.86e14},
{"t":"2016-06-17T12:40","p":0,"b":0},{"t":"2016-06-17T12:40","p":6e-9,"b":2.4e13},{"t":"2016-06-17T12:40","p":1.2e-8,"b":4.8e13},{"t":"2016-06-17T12:40","p":1.8e-8,"b":7.2e13},{"t":"2016-06-17T12:40","p":2.4e-8,"b":9.6e13},{"t":"2016-06-17T12:40","p":3e-8,"b":1.2e14},{"t":"2016-06-17T12:40","p":3.6e-8,"b":1.44e14},{"t":"2016-06-17T12:40","p":4.2e-8,"b":1.68e14},{"t":"2016-06-17T12:40","p":4.8e-8,"b":1.92e14},{"t":"2016-06-17T12:40","b":2.16e14},
{"t":"2016-06-17T15:28","p":3e-9,"b":1.2e13},{"t":"2016-06-17T15:28","p":9e-9,"b":3.6e13},{"t":"2016-06-17T15:28","p":1.5e-8,"b":6e13},{"t":"2016-06-17T15:28","p":2.1e-8,"b":8.4e13},{"t":"2016-06-17T15:28","p":2.7e-8,"b":1.08e14},{"t":"2016-06-17T15:28","p":3.3e-8,"b":1.32e14},{"t":"2016-06-17T15:28","p":3.9e-8,"b":1.56e14},{"t":"2016-06-17T15:28","p":4.5e-8,"b":1.8e14},{"t":"2016-06-17T15:28","b":2.04e14},{"t":"2016-06-17T14:32","p":5e-8,"b":2.16e14},
{"t":"2016-06-17T17:20","p":5.04e-8,"b":2.11e14},{"t":"2016-06-17T18:16","p":4.73e-8,"b":2.08e14},{"t":"2016-06-17T19:12","p":4.41e-8,"b":2.05e14},{"t":"2016-06-17T20:08","p":4.1e-8,"b":2.02e14},{"t":"2016-06-17T21:04","p":3.78e-8,"b":2e14},{"t":"2016-06-17T22:00","p":3.47e-8,"b":1.97e14},{"t":"2016-06-17T22:56","p":3.25e-8,"b":1.94e14},{"t":"2016-06-17T23:52","p":3.02e-8,"b":1.91e14},{"t":"2016-06-18T00:48","p":2.8e-8,"b":1.88e14},{"t":"2016-06-18T01:44","p":2.57e-8,"b":1.85e14},{"t":"2016-06-18T02:40","p":2.35e-8,"b":1.82e14},{"t":"2016-06-18T03:36","p":2.12e-8,"b":1.79e14},{"t":"2016-06-18T04:32","p":1.9e-8,"b":1.76e14},{"t":"2016-06-18T05:28","p":1.73e-8,"b":1.73e14},{"t":"2016-06-18T06:24","p":1.57e-8,"b":1.71e14},{"t":"2016-06-18T07:20","p":1.4e-8,"b":1.68e14},{"t":"2016-06-18T08:16","p":1.23e-8,"b":1.65e14},{"t":"2016-06-18T09:12","p":1.07e-8,"b":1.62e14},{"t":"2016-06-18T10:08","p":9e-9,"b":1.59e14},{"t":"2016-06-18T12:00","p":7.4e-9,"b":1.53e14},{"t":"2016-06-18T13:52","p":5.8e-9,"b":1.47e14},{"t":"2016-06-18T14:48","p":5e-9,"b":1.45e14},{"t":"2016-06-18T16:40","b":1.39e14},{"t":"2016-06-18T18:32","b":1.33e14},{"t":"2016-06-18T14:48","b":7.1e13},
{"t":"2016-06-18T16:40","p":0,"b":0},{"t":"2016-06-18T16:40","p":6e-9,"b":2.4e13},{"t":"2016-06-18T16:40","p":1.2e-8,"b":4.8e13},{"t":"2016-06-18T16:40","p":1.8e-8,"b":7.2e13},{"t":"2016-06-18T16:40","p":2.4e-8,"b":9.6e13},{"t":"2016-06-18T16:40","p":3e-8,"b":1.2e14},{"t":"2016-06-18T16:40","p":3.6e-8,"b":1.44e14},{"t":"2016-06-18T16:40","p":4.2e-8,"b":1.68e14},{"t":"2016-06-18T16:40","p":4.8e-8,"b":1.92e14},{"t":"2016-06-18T16:40","p":5.4e-8,"b":2.16e14},{"t":"2016-06-18T16:40","p":6e-8,"b":2.4e14},{"t":"2016-06-18T16:40","p":6.6e-8},{"t":"2016-06-18T16:40","p":7.2e-8},
{"t":"2016-06-18T20:24","p":3e-9,"b":1.2e13},{"t":"2016-06-18T20:24","p":9e-9,"b":3.6e13},{"t":"2016-06-18T20:24","p":1.5e-8,"b":6e13},{"t":"2016-06-18T20:24","p":2.1e-8,"b":8.4e13},{"t":"2016-06-18T20:24","p":2.7e-8,"b":1.08e14},{"t":"2016-06-18T20:24","p":3.3e-8,"b":1.32e14},{"t":"2016-06-18T20:24","p":3.9e-8,"b":1.56e14},{"t":"2016-06-18T20:24","p":4.5e-8,"b":1.8e14},{"t":"2016-06-18T20:24","p":5.1e-8,"b":2.04e14},{"t":"2016-06-18T20:24","p":5.7e-8,"b":2.28e14},{"t":"2016-06-18T20:24","p":6.3e-8},{"t":"2016-06-18T20:24","p":6.9e-8},{"t":"2016-06-18T20:24","p":7.5e-8},{"t":"2016-06-18T18:32","p":7.9e-8,"b":2.44e14},
{"t":"2016-06-18T21:20","p":7.6e-8},{"t":"2016-06-18T21:48","p":7.3e-8},{"t":"2016-06-18T22:16","p":7e-8,"b":2.41e14},{"t":"2016-06-18T22:44","p":6.7e-8},{"t":"2016-06-18T23:12","p":6.4e-8,"b":2.36e14},{"t":"2016-06-18T23:40","p":6.1e-8},{"t":"2016-06-19T00:08","p":5.8e-8,"b":2.3e14},{"t":"2016-06-19T00:36","p":5.5e-8},{"t":"2016-06-19T01:04","p":5.2e-8,"b":2.25e14},{"t":"2016-06-19T01:32","p":4.9e-8},{"t":"2016-06-19T02:00","p":4.6e-8,"b":2.2e14},{"t":"2016-06-19T02:28","p":4.3e-8},{"t":"2016-06-19T02:56","p":4e-8,"b":2.15e14},{"t":"2016-06-19T03:24","p":3.7e-8},{"t":"2016-06-19T03:52","p":3.4e-8,"b":2.1e14},{"t":"2016-06-19T04:20","p":3.1e-8},{"t":"2016-06-19T04:48","b":8.7e13},
{"t":"2016-06-19T06:40","p":0,"b":0},{"t":"2016-06-19T06:40","p":6e-9,"b":2.4e13},{"t":"2016-06-19T06:40","p":1.2e-8,"b":4.8e13},{"t":"2016-06-19T06:40","p":1.8e-8,"b":7.2e13},{"t":"2016-06-19T06:40","p":2.4e-8,"b":9.6e13},{"t":"2016-06-19T06:40","p":3e-8,"b":1.2e14},{"t":"2016-06-19T06:40","p":3.6e-8,"b":1.44e14},{"t":"2016-06-19T06:40","p":4.2e-8,"b":1.68e14},{"t":"2016-06-19T06:40","p":4.8e-8,"b":1.92e14},{"t":"2016-06-19T06:40","p":5.4e-8,"b":2.16e14},{"t":"2016-06-19T06:40","p":6e-8,"b":2.4e14},{"t":"2016-06-19T06:40","p":6.6e-8},{"t":"2016-06-19T06:40","p":7.2e-8},
{"t":"2016-06-19T10:24","p":3e-9,"b":1.2e13},{"t":"2016-06-19T10:24","p":9e-9,"b":3.6e13},{"t":"2016-06-19T10:24","p":1.5e-8,"b":6e13},{"t":"2016-06-19T10:24","p":2.1e-8,"b":8.4e13},{"t":"2016-06-19T10:24","p":2.7e-8,"b":1.08e14},{"t":"2016-06-19T10:24","p":3.3e-8,"b":1.32e14},{"t":"2016-06-19T10:24","p":3.9e-8,"b":1.56e14},{"t":"2016-06-19T10:24","p":4.5e-8,"b":1.8e14},{"t":"2016-06-19T10:24","p":5.1e-8,"b":2.04e14},{"t":"2016-06-19T10:24","p":5.7e-8,"b":2.28e14},{"t":"2016-06-19T10:24","p":6.3e-8},{"t":"2016-06-19T10:24","p":6.9e-8},{"t":"2016-06-19T10:24","p":7.5e-8},{"t":"2016-06-19T08:32","p":7.9e-8,"b":2.43e14},
{"t":"2016-06-19T11:20","p":7.5e-8},{"t":"2016-06-19T11:48","p":7e-8},{"t":"2016-06-19T12:16","p":6.5e-8,"b":2.38e14},{"t":"2016-06-19T12:44","p":6e-8},{"t":"2016-06-19T13:12","p":5.5e-8,"b":2.33e14},{"t":"2016-06-19T13:40","p":5.1e-8},
{"t":"2016-06-19T16:00","p":0,"b":0},{"t":"2016-06-19T16:00","p":6e-9,"b":2.4e13},{"t":"2016-06-19T16:00","p":1.2e-8,"b":4.8e13},{"t":"2016-06-19T16:00","p":1.8e-8,"b":7.2e13},{"t":"2016-06-19T16:00","p":2.4e-8,"b":9.6e13},{"t":"2016-06-19T16:00","p":3e-8,"b":1.2e14},{"t":"2016-06-19T16:00","p":3.6e-8,"b":1.44e14},{"t":"2016-06-19T16:00","p":4.2e-8,"b":1.68e14},{"t":"2016-06-19T16:00","p":4.8e-8,"b":1.92e14},{"t":"2016-06-19T16:00","p":5.4e-8,"b":2.16e14},{"t":"2016-06-19T16:00","p":6e-8,"b":2.4e14},{"t":"2016-06-19T16:00","p":6.6e-8},{"t":"2016-06-19T16:00","p":7.2e-8},
{"t":"2016-06-19T18:48","p":3e-9,"b":1.2e13},{"t":"2016-06-19T18:48","p":9e-9,"b":3.6e13},{"t":"2016-06-19T18:48","p":1.5e-8,"b":6e13},{"t":"2016-06-19T18:48","p":2.1e-8,"b":8.4e13},{"t":"2016-06-19T18:48","p":2.7e-8,"b":1.08e14},{"t":"2016-06-19T18:48","p":3.3e-8,"b":1.32e14},{"t":"2016-06-19T18:48","p":3.9e-8,"b":1.56e14},{"t":"2016-06-19T18:48","p":4.5e-8,"b":1.8e14},{"t":"2016-06-19T18:48","p":5.1e-8,"b":2.04e14},{"t":"2016-06-19T18:48","p":5.7e-8,"b":2.28e14},{"t":"2016-06-19T18:48","p":6.3e-8},{"t":"2016-06-19T18:48","p":6.9e-8},{"t":"2016-06-19T18:48","p":7.5e-8},{"t":"2016-06-19T16:56","p":8e-8,"b":2.47e14},
{"t":"2016-06-19T19:44","p":7.6e-8,"b":2.44e14},{"t":"2016-06-19T20:12","p":7.2e-8},{"t":"2016-06-19T20:40","p":6.8e-8,"b":2.4e14},{"t":"2016-06-19T21:08","p":6.4e-8},{"t":"2016-06-19T21:36","p":6e-8,"b":2.35e14},{"t":"2016-06-19T22:04","p":5.7e-8},
{"t":"2016-06-20T01:20","p":0,"b":0},{"t":"2016-06-20T01:20","p":6e-9,"b":2.4e13},{"t":"2016-06-20T01:20","p":1.2e-8,"b":4.8e13},{"t":"2016-06-20T01:20","p":1.8e-8,"b":7.2e13},{"t":"2016-06-20T01:20","p":2.4e-8,"b":9.6e13},{"t":"2016-06-20T01:20","p":3e-8,"b":1.2e14},{"t":"2016-06-20T01:20","p":3.6e-8,"b":1.44e14},{"t":"2016-06-20T01:20","p":4.2e-8,"b":1.68e14},{"t":"2016-06-20T01:20","p":4.8e-8,"b":1.92e14},{"t":"2016-06-20T01:20","p":5.4e-8,"b":2.16e14},{"t":"2016-06-20T01:20","p":6e-8},{"t":"2016-06-20T01:20","p":6.6e-8},{"t":"2016-06-20T01:20","p":7.2e-8},
{"t":"2016-06-20T04:08","p":3e-9,"b":1.2e13},{"t":"2016-06-20T04:08","p":9e-9,"b":3.6e13},{"t":"2016-06-20T04:08","p":1.5e-8,"b":6e13},{"t":"2016-06-20T04:08","p":2.1e-8,"b":8.4e13},{"t":"2016-06-20T04:08","p":2.7e-8,"b":1.08e14},{"t":"2016-06-20T04:08","p":3.3e-8,"b":1.32e14},{"t":"2016-06-20T04:08","p":3.9e-8,"b":1.56e14},{"t":"2016-06-20T04:08","p":4.5e-8,"b":1.8e14},{"t":"2016-06-20T04:08","p":5.1e-8,"b":2.04e14},{"t":"2016-06-20T04:08","p":5.7e-8,"b":2.28e14},{"t":"2016-06-20T04:08","p":6.3e-8},{"t":"2016-06-20T04:08","p":6.9e-8},{"t":"2016-06-20T02:16","p":7.38e-8,"b":2.39e14},
{"t":"2016-06-20T06:00","b":2.38e14},{"t":"2016-06-20T06:56","b":2.34e14},{"t":"2016-06-20T07:52","p":7e-8,"b":2.3e14},{"t":"2016-06-20T08:20","p":6.72e-8},{"t":"2016-06-20T08:48","p":6.43e-8,"b":2.26e14},{"t":"2016-06-20T09:16","p":6.15e-8},{"t":"2016-06-20T09:44","p":5.87e-8,"b":2.22e14},{"t":"2016-06-20T10:12","p":5.58e-8},{"t":"2016-06-20T10:40","p":5.3e-8,"b":2.18e14},{"t":"2016-06-20T11:08","p":5.02e-8},{"t":"2016-06-20T11:36","p":4.73e-8,"b":2.15e14},{"t":"2016-06-20T12:04","p":4.45e-8},{"t":"2016-06-20T12:32","p":4.17e-8,"b":2.11e14},{"t":"2016-06-20T13:00","p":3.88e-8},{"t":"2016-06-20T13:28","p":3.6e-8,"b":2.07e14},
{"t":"2016-06-20T10:40","p":2.96e-8},{"t":"2016-06-20T11:36","p":2.79e-8},{"t":"2016-06-20T12:32","p":2.63e-8},{"t":"2016-06-20T13:28","p":2.46e-8},{"t":"2016-06-20T14:24","p":2.3e-8,"b":2.03e14},{"t":"2016-06-20T15:20","p":2.13e-8,"b":1.99e14},{"t":"2016-06-20T16:16","p":2.01e-8,"b":1.95e14},{"t":"2016-06-20T17:12","p":1.89e-8,"b":1.91e14},{"t":"2016-06-20T18:08","p":1.78e-8,"b":1.87e14},{"t":"2016-06-20T19:04","p":1.66e-8,"b":1.84e14},{"t":"2016-06-20T20:00","p":1.54e-8,"b":1.8e14},{"t":"2016-06-20T20:56","p":1.45e-8,"b":1.76e14},{"t":"2016-06-20T21:52","p":1.36e-8,"b":1.72e14},{"t":"2016-06-20T22:48","p":1.27e-8,"b":1.68e14},{"t":"2016-06-20T23:44","p":1.18e-8,"b":1.64e14},{"t":"2016-06-21T00:40","p":1.09e-8,"b":1.6e14},{"t":"2016-06-21T01:36","p":1e-8,"b":1.56e14},{"t":"2016-06-21T03:28","p":8.5e-9,"b":1.49e14},{"t":"2016-06-21T05:20","p":7.1e-9,"b":1.41e14},{"t":"2016-06-21T07:12","p":5.6e-9,"b":1.33e14},{"t":"2016-06-21T07:12","b":8.3e13},
{"t":"2016-06-21T23:32","p":0,"b":0},{"t":"2016-06-21T23:32","p":6e-9,"b":2.4e13},{"t":"2016-06-21T23:32","p":1.2e-8,"b":4.8e13},{"t":"2016-06-21T23:32","p":1.8e-8,"b":7.2e13},{"t":"2016-06-21T23:32","p":2.4e-8,"b":9.6e13},{"t":"2016-06-21T23:32","p":3e-8,"b":1.2e14},{"t":"2016-06-21T23:32","p":3.6e-8,"b":1.44e14},{"t":"2016-06-21T23:32","p":4.2e-8,"b":1.68e14},{"t":"2016-06-21T23:32","p":4.8e-8,"b":1.92e14},{"t":"2016-06-21T23:32","p":5.4e-8,"b":2.16e14},{"t":"2016-06-21T23:32","p":6e-8},
{"t":"2016-06-22T01:24","p":3e-9,"b":1.2e13},{"t":"2016-06-22T01:24","p":9e-9,"b":3.6e13},{"t":"2016-06-22T01:24","p":1.5e-8,"b":6e13},{"t":"2016-06-22T01:24","p":2.1e-8,"b":8.4e13},{"t":"2016-06-22T01:24","p":2.7e-8,"b":1.08e14},{"t":"2016-06-22T01:24","p":3.3e-8,"b":1.32e14},{"t":"2016-06-22T01:24","p":3.9e-8,"b":1.56e14},{"t":"2016-06-22T01:24","p":4.5e-8,"b":1.8e14},{"t":"2016-06-22T01:24","p":5.1e-8,"b":2.04e14},{"t":"2016-06-22T01:24","p":5.7e-8,"b":2.28e14},{"t":"2016-06-22T00:28","p":6.07e-8,"b":2.38e14},
{"t":"2016-06-24T01:28","p":0,"b":0},{"t":"2016-06-24T01:28","p":6e-9,"b":2.4e13},{"t":"2016-06-24T01:28","p":1.2e-8,"b":4.8e13},{"t":"2016-06-24T01:28","p":1.8e-8,"b":7.2e13},{"t":"2016-06-24T01:28","p":2.4e-8,"b":9.6e13},{"t":"2016-06-24T01:28","p":3e-8,"b":1.2e14},{"t":"2016-06-24T01:28","p":3.6e-8,"b":1.44e14},{"t":"2016-06-24T01:28","p":4.2e-8,"b":1.68e14},{"t":"2016-06-24T01:28","p":4.8e-8,"b":1.92e14},{"t":"2016-06-24T01:28","p":5.4e-8,"b":2.16e14},{"t":"2016-06-24T01:28","p":6e-8},{"t":"2016-06-24T01:28","p":6.6e-8},{"t":"2016-06-24T01:28","p":7.2e-8},
{"t":"2016-06-24T05:12","p":3e-9,"b":1.2e13},{"t":"2016-06-24T05:12","p":9e-9,"b":3.6e13},{"t":"2016-06-24T05:12","p":1.5e-8,"b":6e13},{"t":"2016-06-24T05:12","p":2.1e-8,"b":8.4e13},{"t":"2016-06-24T05:12","p":2.7e-8,"b":1.08e14},{"t":"2016-06-24T05:12","p":3.3e-8,"b":1.32e14},{"t":"2016-06-24T05:12","p":3.9e-8,"b":1.56e14},{"t":"2016-06-24T05:12","p":4.5e-8,"b":1.8e14},{"t":"2016-06-24T05:12","p":5.1e-8,"b":2.04e14},{"t":"2016-06-24T05:12","p":5.7e-8,"b":2.28e14},{"t":"2016-06-24T05:12","p":6.3e-8},{"t":"2016-06-24T05:12","p":6.9e-8},{"t":"2016-06-24T05:12","p":7.5e-8},
{"t":"2016-06-24T03:20","p":8e-8,"b":2.36e14},{"t":"2016-06-24T02:24","p":7.7e-8},{"t":"2016-06-24T04:16","p":7e-8},{"t":"2016-06-24T06:08","p":2.7e-9,"b":2.33e14},{"t":"2016-06-24T07:04","b":2.22e14},{"t":"2016-06-24T08:00","b":2.08e14},
{"t":"2016-06-24T09:52","p":0,"b":0},{"t":"2016-06-24T09:52","p":6e-9,"b":2.4e13},{"t":"2016-06-24T09:52","p":1.2e-8,"b":4.8e13},{"t":"2016-06-24T09:52","p":1.8e-8,"b":7.2e13},{"t":"2016-06-24T09:52","p":2.4e-8,"b":9.6e13},{"t":"2016-06-24T09:52","p":3e-8},
{"t":"2016-06-24T12:40","p":3e-9,"b":1.2e13},{"t":"2016-06-24T12:40","p":9e-9,"b":3.6e13},{"t":"2016-06-24T12:40","p":1.5e-8,"b":6e13},{"t":"2016-06-24T12:40","p":2.1e-8,"b":8.4e13},{"t":"2016-06-24T12:40","p":2.7e-8,"b":1.08e14},{"t":"2016-06-24T11:16","b":1.16e14},
{"t":"2016-06-25T01:44","p":0,"b":0},{"t":"2016-06-25T01:44","p":6e-9,"b":2.4e13},{"t":"2016-06-25T01:44","p":1.2e-8,"b":4.8e13},{"t":"2016-06-25T01:44","p":1.8e-8,"b":7.2e13},{"t":"2016-06-25T01:44","p":2.4e-8,"b":9.6e13},{"t":"2016-06-25T01:44","p":3e-8,"b":1.2e14},{"t":"2016-06-25T01:44","p":3.6e-8,"b":1.44e14},{"t":"2016-06-25T01:44","p":4.2e-8,"b":1.68e14},{"t":"2016-06-25T01:44","p":4.8e-8,"b":1.92e14},{"t":"2016-06-25T01:44","p":5.4e-8,"b":2.16e14},{"t":"2016-06-25T01:44","p":6e-8,"b":2.4e14},{"t":"2016-06-25T01:44","p":6.6e-8},
{"t":"2016-06-25T04:04","p":3e-9,"b":1.2e13},{"t":"2016-06-25T04:04","p":9e-9,"b":3.6e13},{"t":"2016-06-25T04:04","p":1.5e-8,"b":6e13},{"t":"2016-06-25T04:04","p":2.1e-8,"b":8.4e13},{"t":"2016-06-25T04:04","p":2.7e-8,"b":1.08e14},{"t":"2016-06-25T04:04","p":3.3e-8,"b":1.32e14},{"t":"2016-06-25T04:04","p":3.9e-8,"b":1.56e14},{"t":"2016-06-25T04:04","p":4.5e-8,"b":1.8e14},{"t":"2016-06-25T04:04","p":5.1e-8,"b":2.04e14},{"t":"2016-06-25T04:04","p":5.7e-8,"b":2.28e14},{"t":"2016-06-25T04:04","p":6.3e-8,"b":2.52e14},{"t":"2016-06-25T04:04","p":6.9e-8},{"t":"2016-06-25T02:40","p":6.96e-8,"b":2.52e14},
{"t":"2016-06-25T05:28","p":5.6e-8,"b":2.5e14},{"t":"2016-06-25T05:56","p":5.35e-8},{"t":"2016-06-25T06:24","p":5.1e-8,"b":2.46e14},{"t":"2016-06-25T06:52","p":4.9e-8},{"t":"2016-06-25T07:20","p":4.7e-8,"b":2.42e14},{"t":"2016-06-25T07:48","p":4.5e-8},{"t":"2016-06-25T08:16","p":4.29e-8,"b":2.38e14},{"t":"2016-06-25T08:44","p":4.08e-8},{"t":"2016-06-25T09:12","p":3.88e-8,"b":2.34e14},{"t":"2016-06-25T09:40","p":3.67e-8},{"t":"2016-06-25T10:08","p":3.47e-8,"b":2.3e14},{"t":"2016-06-25T11:04","p":3.31e-8,"b":2.26e14},{"t":"2016-06-25T12:00","p":3.16e-8,"b":2.22e14},{"t":"2016-06-25T12:56","p":3e-8,"b":2.18e14},{"t":"2016-06-25T13:52","p":2.85e-8,"b":2.14e14},{"t":"2016-06-25T14:48","p":2.69e-8,"b":2.1e14},{"t":"2016-06-25T15:44","p":2.54e-8,"b":2.06e14},{"t":"2016-06-25T16:40","p":2.38e-8,"b":2.02e14},{"t":"2016-06-25T17:36","p":2.23e-8,"b":1.99e14},{"t":"2016-06-25T18:32","p":2.07e-8,"b":1.95e14},{"t":"2016-06-25T19:28","p":1.95e-8,"b":1.91e14},{"t":"2016-06-25T20:24","p":1.83e-8,"b":1.87e14},{"t":"2016-06-25T21:20","p":1.71e-8,"b":1.83e14},{"t":"2016-06-25T22:16","p":1.59e-8,"b":1.79e14},{"t":"2016-06-25T23:12","p":1.46e-8,"b":1.75e14},{"t":"2016-06-26T00:08","p":1.34e-8,"b":1.71e14},{"t":"2016-06-26T01:04","p":1.22e-8,"b":1.67e14},{"t":"2016-06-26T02:00","p":1.1e-8,"b":1.63e14},{"t":"2016-06-26T02:56","p":1e-8,"b":1.59e14},{"t":"2016-06-26T03:52","p":9e-9,"b":1.55e14},{"t":"2016-06-26T04:48","p":8e-9,"b":1.51e14},{"t":"2016-06-26T05:44","p":7e-9,"b":1.47e14},{"t":"2016-06-26T06:40","p":6e-9,"b":1.43e14},
{"t":"2016-06-26T06:12","p":0,"b":0},{"t":"2016-06-26T06:12","p":6e-9,"b":2.4e13},{"t":"2016-06-26T06:12","p":1.2e-8,"b":4.8e13},{"t":"2016-06-26T06:12","b":7.1e13},{"t":"2016-06-26T08:32","p":3e-9,"b":1.2e13},{"t":"2016-06-26T08:32","p":9e-9,"b":3.6e13},{"t":"2016-06-26T08:32","b":6e13},
{"t":"2016-06-26T11:20","p":0,"b":0},{"t":"2016-06-26T11:20","p":6e-9,"b":2.4e13},{"t":"2016-06-26T11:20","p":1.2e-8,"b":4.8e13},{"t":"2016-06-26T11:20","p":1.8e-8,"b":7.2e13},{"t":"2016-06-26T11:20","p":2.4e-8,"b":9.6e13},{"t":"2016-06-26T11:20","p":3e-8,"b":1.2e14},{"t":"2016-06-26T11:20","p":3.6e-8,"b":1.44e14},{"t":"2016-06-26T11:20","p":4.2e-8,"b":1.68e14},{"t":"2016-06-26T11:20","p":4.8e-8,"b":1.92e14},{"t":"2016-06-26T11:20","p":5.4e-8,"b":2.16e14},{"t":"2016-06-26T11:20","p":6e-8,"b":2.4e14},{"t":"2016-06-26T11:20","p":6.6e-8},{"t":"2016-06-26T11:20","p":7.2e-8},
{"t":"2016-06-26T14:08","p":3e-9,"b":1.2e13},{"t":"2016-06-26T14:08","p":9e-9,"b":3.6e13},{"t":"2016-06-26T14:08","p":1.5e-8,"b":6e13},{"t":"2016-06-26T14:08","p":2.1e-8,"b":8.4e13},{"t":"2016-06-26T14:08","p":2.7e-8,"b":1.08e14},{"t":"2016-06-26T14:08","p":3.3e-8,"b":1.32e14},{"t":"2016-06-26T14:08","p":3.9e-8,"b":1.56e14},{"t":"2016-06-26T14:08","p":4.5e-8,"b":1.8e14},{"t":"2016-06-26T14:08","p":5.1e-8,"b":2.04e14},{"t":"2016-06-26T14:08","p":5.7e-8,"b":2.28e14},{"t":"2016-06-26T14:08","p":6.3e-8,"b":2.52e14},{"t":"2016-06-26T14:08","p":6.9e-8},{"t":"2016-06-26T14:08","p":7.5e-8},{"t":"2016-06-26T13:12","p":7.67e-8,"b":2.61e14},
{"t":"2016-06-26T16:00","p":6.4e-8,"b":2.6e14},{"t":"2016-06-26T16:56","p":6.05e-8,"b":2.55e14},{"t":"2016-06-26T17:52","p":5.75e-8,"b":2.51e14},{"t":"2016-06-26T18:48","p":5.45e-8,"b":2.46e14},{"t":"2016-06-26T19:44","p":5.16e-8,"b":2.42e14},{"t":"2016-06-26T20:40","p":4.86e-8,"b":2.37e14},{"t":"2016-06-26T21:36","p":4.57e-8,"b":2.32e14},{"t":"2016-06-26T22:32","p":4.27e-8,"b":2.28e14},{"t":"2016-06-26T23:28","p":4.03e-8,"b":2.23e14},{"t":"2016-06-27T00:24","p":3.79e-8,"b":2.19e14},{"t":"2016-06-27T01:20","p":3.56e-8,"b":2.14e14},{"t":"2016-06-27T02:16","p":3.32e-8,"b":2.09e14},{"t":"2016-06-27T03:12","p":3.08e-8,"b":2.05e14},{"t":"2016-06-27T04:08","p":2.8e-8,"b":2e14},{"t":"2016-06-27T05:04","p":2.52e-8,"b":1.95e14},{"t":"2016-06-27T06:00","p":2.25e-8,"b":1.91e14},{"t":"2016-06-27T06:56","p":1.97e-8,"b":1.86e14},{"t":"2016-06-27T07:52","p":1.69e-8,"b":1.82e14},{"t":"2016-06-27T08:48","b":1.77e14},
{"t":"2016-06-01T04:12","p":4.5e-9,"b":6e12},{"t":"2016-06-01T04:12","p":1.05e-8,"b":3e13},{"t":"2016-06-01T04:12","p":1.65e-8,"b":5.4e13},{"t":"2016-06-01T04:12","p":2.25e-8,"b":7.8e13},{"t":"2016-06-01T04:12","p":2.85e-8,"b":1.02e14},{"t":"2016-06-01T04:12","p":3.45e-8,"b":1.26e14},{"t":"2016-06-01T04:12","p":4.05e-8,"b":1.5e14},{"t":"2016-06-01T04:12","p":4.65e-8,"b":1.74e14},{"t":"2016-06-01T04:12","b":1.98e14},
{"t":"2016-06-01T14:56","p":4.5e-9,"b":6e12},{"t":"2016-06-01T14:56","p":1.05e-8,"b":3e13},{"t":"2016-06-01T14:56","p":1.65e-8,"b":5.4e13},{"t":"2016-06-01T14:56","p":2.25e-8,"b":7.8e13},{"t":"2016-06-01T14:56","p":2.85e-8,"b":1.02e14},{"t":"2016-06-01T14:56","p":3.45e-8,"b":1.26e14},{"t":"2016-06-01T14:56","p":4.05e-8,"b":1.5e14},{"t":"2016-06-01T14:56","p":4.65e-8,"b":1.74e14},{"t":"2016-06-01T14:56","p":5.25e-8,"b":1.98e14},{"t":"2016-06-01T14:56","b":2.22e14},
{"t":"2016-06-02T11:00","p":4.5e-9,"b":6e12},{"t":"2016-06-02T11:00","p":1.05e-8,"b":3e13},{"t":"2016-06-02T11:00","p":1.65e-8,"b":5.4e13},{"t":"2016-06-02T11:00","p":2.25e-8,"b":7.8e13},{"t":"2016-06-02T11:00","p":2.85e-8,"b":1.02e14},{"t":"2016-06-02T11:00","p":3.45e-8,"b":1.26e14},{"t":"2016-06-02T11:00","p":4.05e-8,"b":1.5e14},{"t":"2016-06-02T11:00","p":4.65e-8,"b":1.74e14},{"t":"2016-06-02T11:00","b":1.98e14},{"t":"2016-06-02T11:00","b":2.22e14},
{"t":"2016-06-03T16:52","p":4.5e-9,"b":6e12},{"t":"2016-06-03T16:52","p":1.05e-8,"b":3e13},{"t":"2016-06-03T16:52","p":1.65e-8,"b":5.4e13},{"t":"2016-06-03T16:52","p":2.25e-8,"b":7.8e13},{"t":"2016-06-03T16:52","p":2.85e-8,"b":1.02e14},{"t":"2016-06-03T16:52","p":3.45e-8,"b":1.26e14},{"t":"2016-06-03T16:52","p":4.05e-8,"b":1.5e14},{"t":"2016-06-03T16:52","p":4.65e-8,"b":1.74e14},{"t":"2016-06-03T16:52","p":5.25e-8,"b":1.98e14},{"t":"2016-06-03T16:52","p":5.85e-8,"b":2.22e14},{"t":"2016-06-03T16:52","p":6.45e-8,"b":2.46e14},{"t":"2016-06-03T16:52","p":7.05e-8},
{"t":"2016-06-04T22:16","p":4.5e-9,"b":6e12},{"t":"2016-06-04T22:16","p":1.05e-8,"b":3e13},{"t":"2016-06-04T22:16","p":1.65e-8,"b":5.4e13},{"t":"2016-06-04T22:16","p":2.25e-8,"b":7.8e13},{"t":"2016-06-04T22:16","p":2.85e-8,"b":1.02e14},{"t":"2016-06-04T22:16","p":3.45e-8,"b":1.26e14},{"t":"2016-06-04T22:16","p":4.05e-8,"b":1.5e14},{"t":"2016-06-04T22:16","p":4.65e-8,"b":1.74e14},{"t":"2016-06-04T22:16","p":5.25e-8,"b":1.98e14},{"t":"2016-06-04T22:16","p":5.85e-8,"b":2.22e14},{"t":"2016-06-04T22:16","p":6.45e-8},
{"t":"2016-06-05T18:48","p":4.5e-9,"b":6e12},{"t":"2016-06-05T18:48","p":1.05e-8,"b":3e13},{"t":"2016-06-05T18:48","p":1.65e-8,"b":5.4e13},{"t":"2016-06-05T18:48","p":2.25e-8,"b":7.8e13},{"t":"2016-06-05T18:48","p":2.85e-8,"b":1.02e14},{"t":"2016-06-05T18:48","p":3.45e-8,"b":1.26e14},{"t":"2016-06-05T18:48","p":4.05e-8,"b":1.5e14},{"t":"2016-06-05T18:48","p":4.65e-8,"b":1.74e14},{"t":"2016-06-05T18:48","b":1.98e14},{"t":"2016-06-05T18:48","b":2.22e14},
{"t":"2016-06-11T10:36","p":4.5e-9,"b":6e12},{"t":"2016-06-11T10:36","p":1.05e-8,"b":3e13},{"t":"2016-06-11T10:36","p":1.65e-8,"b":5.4e13},{"t":"2016-06-11T10:36","p":2.25e-8},
{"t":"2016-06-12T00:08","p":4.5e-9,"b":6e12},{"t":"2016-06-12T00:08","p":1.05e-8,"b":3e13},{"t":"2016-06-12T00:08","p":1.65e-8,"b":5.4e13},{"t":"2016-06-12T00:08","p":2.25e-8,"b":7.8e13},{"t":"2016-06-12T00:08","p":2.85e-8,"b":1.02e14},{"t":"2016-06-12T00:08","p":3.45e-8,"b":1.26e14},{"t":"2016-06-12T00:08","p":4.05e-8,"b":1.5e14},{"t":"2016-06-12T00:08","p":4.65e-8,"b":1.74e14},{"t":"2016-06-12T00:08","p":5.25e-8,"b":1.98e14},{"t":"2016-06-12T00:08","p":5.85e-8,"b":2.22e14},{"t":"2016-06-12T00:08","p":6.45e-8},{"t":"2016-06-12T00:08","p":7.05e-8},
{"t":"2016-06-13T02:16","p":4.5e-9,"b":6e12},{"t":"2016-06-13T02:16","p":1.05e-8,"b":3e13},{"t":"2016-06-13T02:16","p":1.65e-8,"b":5.4e13},{"t":"2016-06-13T02:16","p":2.25e-8,"b":7.8e13},{"t":"2016-06-13T02:16","p":2.85e-8,"b":1.02e14},{"t":"2016-06-13T02:16","p":3.45e-8,"b":1.26e14},{"t":"2016-06-13T02:16","p":4.05e-8,"b":1.5e14},{"t":"2016-06-13T02:16","p":4.65e-8,"b":1.74e14},{"t":"2016-06-13T02:16","p":5.25e-8,"b":1.98e14},{"t":"2016-06-13T02:16","p":5.85e-8,"b":2.22e14},{"t":"2016-06-13T02:16","p":6.45e-8},{"t":"2016-06-13T02:16","p":7.05e-8},
{"t":"2016-06-14T15:36","p":4.5e-9,"b":6e12},{"t":"2016-06-14T15:36","p":1.05e-8,"b":3e13},{"t":"2016-06-14T15:36","p":1.65e-8,"b":5.4e13},{"t":"2016-06-14T15:36","p":2.25e-8,"b":7.8e13},{"t":"2016-06-14T15:36","p":2.85e-8,"b":1.02e14},{"t":"2016-06-14T15:36","p":3.45e-8,"b":1.26e14},{"t":"2016-06-14T15:36","p":4.05e-8,"b":1.5e14},{"t":"2016-06-14T15:36","p":4.65e-8,"b":1.74e14},{"t":"2016-06-14T15:36","p":5.25e-8,"b":1.98e14},{"t":"2016-06-14T15:36","p":5.85e-8,"b":2.22e14},{"t":"2016-06-14T15:36","p":6.45e-8,"b":2.46e14},{"t":"2016-06-14T15:36","p":7.05e-8},{"t":"2016-06-14T15:36","p":7.65e-8},
{"t":"2016-06-15T17:16","p":4.5e-9,"b":6e12},{"t":"2016-06-15T17:16","p":1.05e-8,"b":3e13},{"t":"2016-06-15T17:16","p":1.65e-8,"b":5.4e13},{"t":"2016-06-15T17:16","p":2.25e-8,"b":7.8e13},{"t":"2016-06-15T17:16","p":2.85e-8,"b":1.02e14},{"t":"2016-06-15T17:16","p":3.45e-8,"b":1.26e14},{"t":"2016-06-15T17:16","p":4.05e-8,"b":1.5e14},{"t":"2016-06-15T17:16","p":4.65e-8,"b":1.74e14},{"t":"2016-06-15T17:16","p":5.25e-8,"b":1.98e14},{"t":"2016-06-15T17:16","p":5.85e-8,"b":2.22e14},{"t":"2016-06-15T17:16","p":6.45e-8},{"t":"2016-06-15T17:16","p":7.05e-8},{"t":"2016-06-15T17:16","p":7.65e-8},
{"t":"2016-06-17T01:00","p":4.5e-9,"b":6e12},{"t":"2016-06-17T01:00","p":1.05e-8,"b":3e13},{"t":"2016-06-17T01:00","p":1.65e-8,"b":5.4e13},{"t":"2016-06-17T01:00","p":2.25e-8,"b":7.8e13},{"t":"2016-06-17T01:00","p":2.85e-8,"b":1.02e14},{"t":"2016-06-17T01:00","p":3.45e-8,"b":1.26e14},{"t":"2016-06-17T01:00","p":4.05e-8,"b":1.5e14},{"t":"2016-06-17T01:00","p":4.65e-8,"b":1.74e14},{"t":"2016-06-17T01:00","p":5.25e-8,"b":1.98e14},{"t":"2016-06-17T01:00","p":5.85e-8,"b":2.22e14},{"t":"2016-06-17T01:00","p":6.45e-8},
{"t":"2016-06-17T14:04","p":4.5e-9,"b":6e12},{"t":"2016-06-17T14:04","p":1.05e-8,"b":3e13},{"t":"2016-06-17T14:04","p":1.65e-8,"b":5.4e13},{"t":"2016-06-17T14:04","p":2.25e-8,"b":7.8e13},{"t":"2016-06-17T14:04","p":2.85e-8,"b":1.02e14},{"t":"2016-06-17T14:04","p":3.45e-8,"b":1.26e14},{"t":"2016-06-17T14:04","p":4.05e-8,"b":1.5e14},{"t":"2016-06-17T14:04","p":4.65e-8,"b":1.74e14},{"t":"2016-06-17T14:04","b":1.98e14},
{"t":"2016-06-18T18:32","p":4.5e-9,"b":6e12},{"t":"2016-06-18T18:32","p":1.05e-8,"b":3e13},{"t":"2016-06-18T18:32","p":1.65e-8,"b":5.4e13},{"t":"2016-06-18T18:32","p":2.25e-8,"b":7.8e13},{"t":"2016-06-18T18:32","p":2.85e-8,"b":1.02e14},{"t":"2016-06-18T18:32","p":3.45e-8,"b":1.26e14},{"t":"2016-06-18T18:32","p":4.05e-8,"b":1.5e14},{"t":"2016-06-18T18:32","p":4.65e-8,"b":1.74e14},{"t":"2016-06-18T18:32","p":5.25e-8,"b":1.98e14},{"t":"2016-06-18T18:32","p":5.85e-8,"b":2.22e14},{"t":"2016-06-18T18:32","p":6.45e-8},{"t":"2016-06-18T18:32","p":7.05e-8},{"t":"2016-06-18T18:32","p":7.65e-8},
{"t":"2016-06-19T08:32","p":4.5e-9,"b":6e12},{"t":"2016-06-19T08:32","p":1.05e-8,"b":3e13},{"t":"2016-06-19T08:32","p":1.65e-8,"b":5.4e13},{"t":"2016-06-19T08:32","p":2.25e-8,"b":7.8e13},{"t":"2016-06-19T08:32","p":2.85e-8,"b":1.02e14},{"t":"2016-06-19T08:32","p":3.45e-8,"b":1.26e14},{"t":"2016-06-19T08:32","p":4.05e-8,"b":1.5e14},{"t":"2016-06-19T08:32","p":4.65e-8,"b":1.74e14},{"t":"2016-06-19T08:32","p":5.25e-8,"b":1.98e14},{"t":"2016-06-19T08:32","p":5.85e-8,"b":2.22e14},{"t":"2016-06-19T08:32","p":6.45e-8},{"t":"2016-06-19T08:32","p":7.05e-8},{"t":"2016-06-19T08:32","p":7.65e-8},
{"t":"2016-06-19T17:24","p":4.5e-9,"b":6e12},{"t":"2016-06-19T17:24","p":1.05e-8,"b":3e13},{"t":"2016-06-19T17:24","p":1.65e-8,"b":5.4e13},{"t":"2016-06-19T17:24","p":2.25e-8,"b":7.8e13},{"t":"2016-06-19T17:24","p":2.85e-8,"b":1.02e14},{"t":"2016-06-19T17:24","p":3.45e-8,"b":1.26e14},{"t":"2016-06-19T17:24","p":4.05e-8,"b":1.5e14},{"t":"2016-06-19T17:24","p":4.65e-8,"b":1.74e14},{"t":"2016-06-19T17:24","p":5.25e-8,"b":1.98e14},{"t":"2016-06-19T17:24","p":5.85e-8,"b":2.22e14},{"t":"2016-06-19T17:24","p":6.45e-8,"b":2.46e14},{"t":"2016-06-19T17:24","p":7.05e-8},{"t":"2016-06-19T17:24","p":7.65e-8},
{"t":"2016-06-20T02:44","p":4.5e-9,"b":6e12},{"t":"2016-06-20T02:44","p":1.05e-8,"b":3e13},{"t":"2016-06-20T02:44","p":1.65e-8,"b":5.4e13},{"t":"2016-06-20T02:44","p":2.25e-8,"b":7.8e13},{"t":"2016-06-20T02:44","p":2.85e-8,"b":1.02e14},{"t":"2016-06-20T02:44","p":3.45e-8,"b":1.26e14},{"t":"2016-06-20T02:44","p":4.05e-8,"b":1.5e14},{"t":"2016-06-20T02:44","p":4.65e-8,"b":1.74e14},{"t":"2016-06-20T02:44","p":5.25e-8,"b":1.98e14},{"t":"2016-06-20T02:44","p":5.85e-8,"b":2.22e14},{"t":"2016-06-20T02:44","p":6.45e-8},{"t":"2016-06-20T02:44","p":7.05e-8},
{"t":"2016-06-22T00:28","p":4.5e-9,"b":6e12},{"t":"2016-06-22T00:28","p":1.05e-8,"b":3e13},{"t":"2016-06-22T00:28","p":1.65e-8,"b":5.4e13},{"t":"2016-06-22T00:28","p":2.25e-8,"b":7.8e13},{"t":"2016-06-22T00:28","p":2.85e-8,"b":1.02e14},{"t":"2016-06-22T00:28","p":3.45e-8,"b":1.26e14},{"t":"2016-06-22T00:28","p":4.05e-8,"b":1.5e14},{"t":"2016-06-22T00:28","p":4.65e-8,"b":1.74e14},{"t":"2016-06-22T00:28","p":5.25e-8,"b":1.98e14},{"t":"2016-06-22T00:28","p":5.85e-8,"b":2.22e14},
{"t":"2016-06-24T03:20","p":4.5e-9,"b":6e12},{"t":"2016-06-24T03:20","p":1.05e-8,"b":3e13},{"t":"2016-06-24T03:20","p":1.65e-8,"b":5.4e13},{"t":"2016-06-24T03:20","p":2.25e-8,"b":7.8e13},{"t":"2016-06-24T03:20","p":2.85e-8,"b":1.02e14},{"t":"2016-06-24T03:20","p":3.45e-8,"b":1.26e14},{"t":"2016-06-24T03:20","p":4.05e-8,"b":1.5e14},{"t":"2016-06-24T03:20","p":4.65e-8,"b":1.74e14},{"t":"2016-06-24T03:20","p":5.25e-8,"b":1.98e14},{"t":"2016-06-24T03:20","p":5.85e-8,"b":2.22e14},{"t":"2016-06-24T03:20","p":6.45e-8},{"t":"2016-06-24T03:20","p":7.05e-8},{"t":"2016-06-24T03:20","p":7.65e-8},
{"t":"2016-06-24T11:16","p":4.5e-9,"b":6e12},{"t":"2016-06-24T11:16","p":1.05e-8,"b":3e13},{"t":"2016-06-24T11:16","p":1.65e-8,"b":5.4e13},{"t":"2016-06-24T11:16","p":2.25e-8,"b":7.8e13},{"t":"2016-06-24T11:16","p":2.85e-8,"b":1.02e14},
{"t":"2016-06-25T02:54","p":4.5e-9,"b":6e12},{"t":"2016-06-25T02:54","p":1.05e-8,"b":3e13},{"t":"2016-06-25T02:54","p":1.65e-8,"b":5.4e13},{"t":"2016-06-25T02:54","p":2.25e-8,"b":7.8e13},{"t":"2016-06-25T02:54","p":2.85e-8,"b":1.02e14},{"t":"2016-06-25T02:54","p":3.45e-8,"b":1.26e14},{"t":"2016-06-25T02:54","p":4.05e-8,"b":1.5e14},{"t":"2016-06-25T02:54","p":4.65e-8,"b":1.74e14},{"t":"2016-06-25T02:54","p":5.25e-8,"b":1.98e14},{"t":"2016-06-25T02:54","p":5.85e-8,"b":2.22e14},{"t":"2016-06-25T02:54","p":6.45e-8,"b":2.46e14},
{"t":"2016-06-26T12:44","p":4.5e-9,"b":6e12},{"t":"2016-06-26T12:44","p":1.05e-8,"b":3e13},{"t":"2016-06-26T12:44","p":1.65e-8,"b":5.4e13},{"t":"2016-06-26T12:44","p":2.25e-8,"b":7.8e13},{"t":"2016-06-26T12:44","p":2.85e-8,"b":1.02e14},{"t":"2016-06-26T12:44","p":3.45e-8,"b":1.26e14},{"t":"2016-06-26T12:44","p":4.05e-8,"b":1.5e14},{"t":"2016-06-26T12:44","p":4.65e-8,"b":1.74e14},{"t":"2016-06-26T12:44","p":5.25e-8,"b":1.98e14},{"t":"2016-06-26T12:44","p":5.85e-8,"b":2.22e14},{"t":"2016-06-26T12:44","p":6.45e-8,"b":2.46e14},{"t":"2016-06-26T12:44","p":7.05e-8},{"t":"2016-06-26T12:44","p":7.65e-8},
{"t":"2016-06-01T00:56","b":0},{"t":"2016-06-01T04:40","b":0},{"t":"2016-06-01T08:24","b":0},{"t":"2016-06-01T12:08","b":0},{"t":"2016-06-01T15:52","b":0},{"t":"2016-06-01T18:40","b":0},{"t":"2016-06-02T04:56","b":0},{"t":"2016-06-02T08:40","b":0},{"t":"2016-06-02T11:28","b":0},{"t":"2016-06-03T04:16","b":0},{"t":"2016-06-03T08:00","b":0},{"t":"2016-06-03T11:44","b":0},{"t":"2016-06-03T15:28","b":0},{"t":"2016-06-03T19:12","b":0},{"t":"2016-06-03T22:00","b":0},{"t":"2016-06-04T12:00","b":0},{"t":"2016-06-04T15:44","b":0},{"t":"2016-06-04T19:28","b":0},{"t":"2016-06-04T22:16","b":0},{"t":"2016-06-06T08:48","b":0},{"t":"2016-06-06T12:32","b":0},{"t":"2016-06-06T16:16","b":0},{"t":"2016-06-06T20:00","b":0},{"t":"2016-06-06T23:44","b":0},{"t":"2016-06-07T03:28","b":0},{"t":"2016-06-07T07:12","b":0},{"t":"2016-06-07T10:56","b":0},{"t":"2016-06-07T14:40","b":0},{"t":"2016-06-07T18:24","b":0},{"t":"2016-06-08T12:08","b":0},{"t":"2016-06-08T14:56","b":0},{"t":"2016-06-08T18:40","b":0},{"t":"2016-06-08T22:24","b":0},{"t":"2016-06-09T02:08","b":0},{"t":"2016-06-09T05:52","b":0},{"t":"2016-06-09T09:36","b":0},{"t":"2016-06-09T13:20","b":0},{"t":"2016-06-09T17:04","b":0},{"t":"2016-06-09T20:48","b":0},{"t":"2016-06-10T00:32","b":0},{"t":"2016-06-10T04:16","b":0},{"t":"2016-06-10T08:00","b":0},{"t":"2016-06-10T11:44","b":0},{"t":"2016-06-10T15:28","b":0},{"t":"2016-06-10T19:12","b":0},{"t":"2016-06-10T22:56","b":0},{"t":"2016-06-11T02:40","b":0},{"t":"2016-06-11T06:24","b":0},{"t":"2016-06-11T10:08","b":0},{"t":"2016-06-11T19:28","b":0},{"t":"2016-06-11T23:12","b":0},{"t":"2016-06-12T21:36","b":0},{"t":"2016-06-13T01:20","b":0},{"t":"2016-06-14T10:56","b":0},{"t":"2016-06-14T14:40","b":0},{"t":"2016-06-15T14:00","b":0},{"t":"2016-06-15T17:44","b":0},{"t":"2016-06-16T04:00","b":0},{"t":"2016-06-16T07:44","b":0},{"t":"2016-06-16T11:28","b":0},{"t":"2016-06-16T15:12","b":0},{"t":"2016-06-16T18:56","b":0},{"t":"2016-06-16T22:40","b":0},{"t":"2016-06-17T09:52","b":0},{"t":"2016-06-18T19:28","b":0},{"t":"2016-06-19T04:48","b":0},{"t":"2016-06-19T13:12","b":0},{"t":"2016-06-19T21:36","b":0},{"t":"2016-06-20T06:00","b":0},{"t":"2016-06-21T06:16","b":0},{"t":"2016-06-21T10:00","b":0},{"t":"2016-06-21T13:44","b":0},{"t":"2016-06-21T17:28","b":0},{"t":"2016-06-21T21:12","b":0},{"t":"2016-06-22T00:56","b":0},{"t":"2016-06-22T04:40","b":0},{"t":"2016-06-22T08:24","b":0},{"t":"2016-06-22T12:08","b":0},{"t":"2016-06-22T15:52","b":0},{"t":"2016-06-22T19:36","b":0},{"t":"2016-06-22T23:20","b":0},{"t":"2016-06-23T03:04","b":0},{"t":"2016-06-23T06:48","b":0},{"t":"2016-06-23T10:32","b":0},{"t":"2016-06-23T14:16","b":0},{"t":"2016-06-23T18:00","b":0},{"t":"2016-06-23T21:44","b":0},{"t":"2016-06-24T10:48","b":0},{"t":"2016-06-24T14:32","b":0},{"t":"2016-06-24T18:16","b":0},{"t":"2016-06-24T22:00","b":0},{"t":"2016-06-26T02:56","b":0},{"t":"2016-06-26T10:24","b":0},{"t":"2016-06-26T16:00","b":0}
]},
"layer":[
 {"transform":[{"filter":"isValid(datum.p)"}],
  "mark":{"type":"point","shape":"circle","filled":true,"size":64,"opacity":1},
  "encoding":{
   "x":{"field":"t","type":"temporal","title":"Date & Time [UTC]",
    "scale":{"domain":[{"year":2016,"month":6,"date":1},{"year":2016,"month":6,"date":29}]},
    "axis":{"values":[{"year":2016,"month":6,"date":1},{"year":2016,"month":6,"date":6},{"year":2016,"month":6,"date":11},{"year":2016,"month":6,"date":16},{"year":2016,"month":6,"date":21},{"year":2016,"month":6,"date":26}],
     "format":"%d/%m/%Y %H:%M","labelAngle":30,"labelAlign":"left","labelBaseline":"top","labelFontSize":14.5,"labelColor":"#404040","labelPadding":15,"labelOffset":8,"labelOverlap":false,"labelBound":false,"labelFlush":false,
     "ticks":false,"domainColor":"#d9d9d9","grid":true,"gridColor":"#d9d9d9",
     "titleFontSize":19,"titleFontWeight":"bold","titleColor":"#262626","titleX":386,"titleY":120,"titleBaseline":"alphabetic","titleAlign":"center"}},
   "y":{"field":"p","type":"quantitative","title":"Pressure [mbar]","scale":{"domain":[0,8e-8]},
    "axis":{"values":[0,1e-8,2e-8,3e-8,4e-8,5e-8,6e-8,7e-8,8e-8],"labelExpr":"datum.value == 0 ? '0.0E+00' : format(datum.value*1e8,'.1f') + 'E-08'",
     "labelFontSize":16,"labelColor":"#404040","ticks":false,"domain":false,"labelPadding":22,"grid":true,"gridColor":"#d9d9d9",
     "titleColor":"#FF0000","titleFontSize":20,"titleFontWeight":"bold","titleX":-82,"titleY":138,"titleBaseline":"middle","titleAngle":-90}},
   "color":{"datum":"Interconnect MKI8D-Q5","scale":{"range":["#FF0000"]},
    "legend":{"orient":"none","legendX":61,"legendY":-23,"title":null,"labelFontSize":15,"labelFontWeight":"bold","labelColor":"#262626","labelLimit":400,"symbolType":"circle","symbolSize":45,"labelOffset":6,"padding":0}}}},
 {"transform":[{"filter":"isValid(datum.b)"}],
  "mark":{"type":"point","shape":"circle","filled":false,"size":56,"strokeWidth":1.8,"opacity":1},
  "encoding":{
   "x":{"field":"t","type":"temporal","title":"Date & Time [UTC]"},
   "y":{"field":"b","type":"quantitative","title":"Beam Intensity [p]","scale":{"domain":[0,3e14]},
    "axis":{"orient":"right","values":[0,5e13,1e14,1.5e14,2e14,2.5e14,3e14],
     "labelExpr":"datum.value == 0 ? '0' : (datum.value < 1e14 ? format(datum.value/1e13,'~g') + 'E+13' : format(datum.value/1e14,'~g') + 'E+14')",
     "labelFontSize":16,"labelFontWeight":"bold","labelColor":"#2E75B6","tickSize":5,"tickColor":"#bfbfbf","domainColor":"#bfbfbf","grid":false,"labelPadding":6,
     "titleColor":"#2E75B6","titleFontSize":20,"titleFontWeight":"bold","titleX":100,"titleY":135,"titleBaseline":"middle","titleAngle":-90}},
   "stroke":{"datum":"LHC.BCTFR.A6R4.B2:BEAM_INTENSITY","scale":{"range":["#2E75B6"]},
    "legend":{"orient":"none","legendX":398,"legendY":-23,"title":null,"labelFontSize":14,"labelFontWeight":"bold","labelColor":"#262626","labelLimit":400,"symbolType":"circle","symbolSize":40,"symbolStrokeWidth":1.5,"labelOffset":6,"padding":0}}}},
 {"data":{"values":[{}]},
  "mark":{"type":"rule","color":"#FF0000","strokeWidth":5,"strokeDash":[22,16.1]},
  "encoding":{"x":{"datum":{"year":2016,"month":5,"date":31,"hours":14,"minutes":40},"type":"temporal"},"x2":{"datum":{"year":2016,"month":6,"date":28,"hours":3,"minutes":28}},
   "y":{"datum":5.05e-8,"type":"quantitative","scale":{"domain":[0,8e-8]},"axis":null}}},
 {"data":{"values":[{}]},
  "mark":{"type":"text","text":["SIS","threshold"],"font":"Liberation Sans","fontSize":25,"color":"#FF0000","align":"center","baseline":"alphabetic","lineHeight":32},
  "encoding":{"x":{"datum":{"year":2016,"month":6,"date":9,"hours":5,"minutes":52},"type":"temporal"},
   "y":{"datum":5.39e-8,"type":"quantitative","scale":{"domain":[0,8e-8]},"axis":null}}}
],
"resolve":{"scale":{"y":"independent"}}
}
